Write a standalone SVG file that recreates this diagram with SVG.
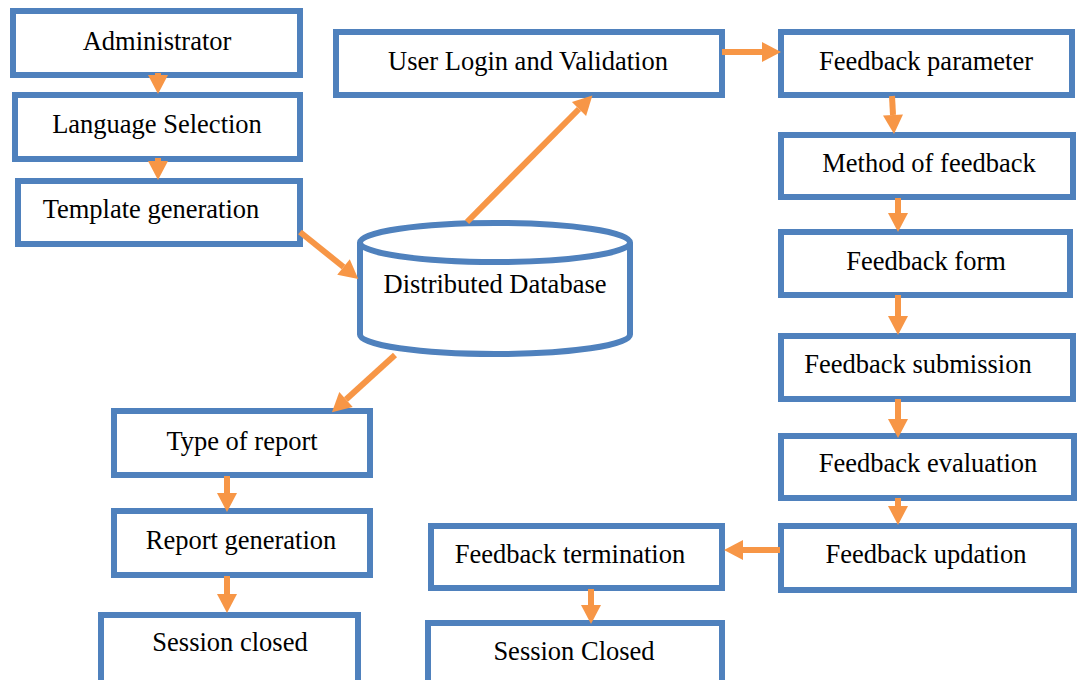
<svg xmlns="http://www.w3.org/2000/svg" width="1077" height="680" viewBox="0 0 1077 680">
<style>
  .box { fill: #ffffff; stroke: #4F81BD; stroke-width: 6; }
  .lbl { font-family: "Liberation Serif", "Times New Roman", serif; font-size: 26.5px; fill: #000000; text-anchor: middle; }
  .conn { stroke: #F79646; stroke-width: 6; fill: none; marker-end: url(#ah); }
</style>
<defs>
  <marker id="ah" markerUnits="userSpaceOnUse" markerWidth="19" markerHeight="20" refX="0" refY="10" orient="auto" overflow="visible">
    <path d="M0,0 L19,10 L0,20 Z" fill="#F79646"/>
  </marker>
</defs>
<rect width="1077" height="680" fill="#ffffff"/>

<g id="administrator"><rect class="box" x="13" y="11" width="287" height="64"/><text class="lbl" x="157" y="50">Administrator</text></g>
<g id="language-selection"><rect class="box" x="15" y="95" width="285" height="64"/><text class="lbl" x="157" y="133">Language Selection</text></g>
<g id="template-generation"><rect class="box" x="18" y="181" width="282" height="63"/><text class="lbl" x="151" y="218">Template generation</text></g>

<g id="distributed-database">
  <path class="box" d="M360,242.5 L360,334.5 A135,19.5 0 0 0 630,334.5 L630,242.5"/>
  <ellipse class="box" cx="495" cy="242.5" rx="135" ry="19.5"/>
  <text class="lbl" x="495" y="293">Distributed Database</text>
</g>

<g id="user-login"><rect class="box" x="336" y="32" width="386" height="63"/><text class="lbl" x="528" y="70">User Login and Validation</text></g>
<g id="feedback-parameter"><rect class="box" x="781" y="32" width="291" height="63"/><text class="lbl" x="926" y="70">Feedback parameter</text></g>
<g id="method-of-feedback"><rect class="box" x="781" y="135" width="292" height="62"/><text class="lbl" x="929" y="172">Method of feedback</text></g>
<g id="feedback-form"><rect class="box" x="781" y="232" width="289" height="63"/><text class="lbl" x="926" y="270">Feedback form</text></g>
<g id="feedback-submission"><rect class="box" x="781" y="336" width="292" height="63"/><text class="lbl" x="918" y="373">Feedback submission</text></g>
<g id="feedback-evaluation"><rect class="box" x="781" y="436" width="293" height="62"/><text class="lbl" x="928" y="472">Feedback evaluation</text></g>
<g id="feedback-updation"><rect class="box" x="781" y="526" width="293" height="64"/><text class="lbl" x="926" y="563">Feedback updation</text></g>
<g id="feedback-termination"><rect class="box" x="431" y="526" width="291" height="62"/><text class="lbl" x="570" y="563">Feedback termination</text></g>
<g id="session-closed-right"><rect class="box" x="428" y="623" width="294" height="66"/><text class="lbl" x="574" y="660">Session Closed</text></g>

<g id="type-of-report"><rect class="box" x="114" y="411" width="256" height="64"/><text class="lbl" x="242" y="450">Type of report</text></g>
<g id="report-generation"><rect class="box" x="114" y="511" width="256" height="64"/><text class="lbl" x="241" y="549">Report generation</text></g>
<g id="session-closed-left"><rect class="box" x="101" y="615" width="257" height="72"/><text class="lbl" x="230" y="651">Session closed</text></g>

<g id="connectors">
  <path class="conn" d="M158,73 L158,75"/>
  <path class="conn" d="M158,158 L158,161"/>
  <path class="conn" d="M300,232 L343.5,267"/>
  <path class="conn" d="M467,222 L579,109"/>
  <path class="conn" d="M395,355 L346,399.5"/>
  <path class="conn" d="M722,52 L762,52"/>
  <path class="conn" d="M892,96 L893,115"/>
  <path class="conn" d="M898,198 L898,213"/>
  <path class="conn" d="M898,295 L898,316"/>
  <path class="conn" d="M898,399 L898,419"/>
  <path class="conn" d="M898,498 L898,506"/>
  <path class="conn" d="M780,550 L743,550"/>
  <path class="conn" d="M591,589 L591,605"/>
  <path class="conn" d="M227,476 L227,493"/>
  <path class="conn" d="M227,576 L227,594"/>
</g>
</svg>
